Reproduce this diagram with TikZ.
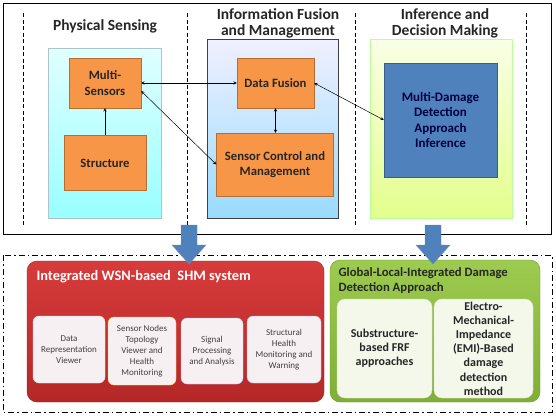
\documentclass[tikz,border=0pt]{standalone}
\usepackage{fontspec}
\setmainfont{Carlito}
\definecolor{boxorange}{HTML}{F79646}\definecolor{orangeedge}{HTML}{B66D31}
\definecolor{boxblue}{HTML}{4F81BD}\definecolor{blueedge}{HTML}{385D8A}
\definecolor{subpink}{HTML}{F7F0F2}\definecolor{subgreen}{HTML}{F3F8EB}
\definecolor{redtop}{HTML}{D73B3B}\definecolor{redbot}{HTML}{B52727}
\definecolor{greentop}{HTML}{9DCB4F}\definecolor{greenbot}{HTML}{7FAF35}

\begin{document}
\begin{tikzpicture}
[x=1pt,y=-1pt,
 heading/.style={font=\bfseries\fontsize{15.5}{16}\selectfont,align=center,text=black!85},
 obox/.style={draw=orangeedge,fill=boxorange,align=center,font=\bfseries\fontsize{12.7}{15.5}\selectfont,inner sep=1pt,text=black!85},
 sbox/.style={draw=#1,fill=subpink,rounded corners=6pt,align=center,font=\fontsize{9}{11}\selectfont,text=black!75,inner sep=1pt},
 gbox/.style={draw=gray!25,fill=subgreen,rounded corners=8pt,align=center,font=\bfseries\fontsize{12}{14.2}\selectfont,text=black!85,inner sep=1pt},
 link/.style={stealth-stealth,line width=0.5pt},
 sep/.style={dash pattern=on 4pt off 2.5pt,line width=0.8pt}]
\useasboundingbox (0,0) rectangle (556,415);
\draw[line width=1pt] (3,3) rectangle (551,234);
\foreach \x in {23,187,355,526} \draw[sep] (\x,13)--(\x,227);
\draw[draw=cyan!30!gray!60,top color=cyan!12,bottom color=cyan!40] (48,48) rectangle (161,218);
\draw[draw=black!75,top color=blue!6,bottom color=blue!35!cyan!40] (207,39) rectangle (338,218);
\draw[draw=lime!40!green!40,top color=lime!10,bottom color=lime!45] (370,39) rectangle (512,218);
\node[heading] (phys) at (105,26) {Physical Sensing};
\node[heading] (fusion) at (278,23) {Information Fusion\\and Management};
\node[heading] (infer) at (445,23) {Inference and\\Decision Making};
\node[obox,minimum width=72pt,minimum height=50pt] (sensors) at (105,83) {Multi-\\Sensors};
\node[obox,minimum width=82pt,minimum height=55pt] (structure) at (105,163) {Structure};
\node[obox,minimum width=77pt,minimum height=50pt] (datafusion) at (275.5,83) {Data Fusion};
\node[obox,minimum width=117pt,minimum height=63pt] (control) at (275,164.5) {Sensor Control and\\Management};
\node[obox,draw=blueedge,fill=boxblue,text=blue!25!black,minimum width=113pt,minimum height=114pt,font=\bfseries\fontsize{13}{15.5}\selectfont] (damage) at (440.5,120) {Multi-Damage\\Detection\\Approach\\Inference};
\draw[-stealth,line width=0.5pt] (structure) -- (sensors);
\draw[link] (sensors) -- (datafusion);
\draw[link] ([yshift=-8pt]sensors.east) -- (control.west);
\draw[link] (datafusion.south) -- (datafusion.south |- control.north);
\draw[link] (datafusion.east) -- (damage.west);
\draw[dash pattern=on 6pt off 3pt on 1.5pt off 3pt,line width=0.9pt] (3,255) rectangle (552,412);
\draw[draw=redbot!85!black,top color=redtop,bottom color=redbot,rounded corners=10pt] (27,261) rectangle (324,402);
\draw[draw=greenbot!85!black,top color=greentop,bottom color=greenbot,rounded corners=10pt] (330,260) rectangle (540,402);
\node[anchor=west,text=white,font=\bfseries\fontsize{14.4}{16}\selectfont] (wsn) at (33,277) {Integrated WSN-based\ \ SHM system};
\node[sbox=gray!20,minimum width=72pt,minimum height=67pt] (viewer) at (69,349.5) {Data\\Representation\\Viewer};
\node[sbox=orange!50!yellow!70,minimum width=68pt,minimum height=68pt] (topology) at (142,351) {Sensor Nodes\\Topology\\Viewer and\\Health\\Monitoring};
\node[sbox=blue!25,minimum width=62pt,minimum height=66pt] (signal) at (212,351) {Signal\\Processing\\and Analysis};
\node[sbox=blue!30!gray!40,minimum width=74pt,minimum height=67pt] (warning) at (284,349.5) {Structural\\Health\\Monitoring and\\Warning};
\node[anchor=north west,align=left,text=black!85,font=\bfseries\fontsize{12.7}{15}\selectfont] (global) at (335,264) {Global-Local-Integrated Damage\\Detection Approach};
\node[gbox,minimum width=95pt,minimum height=99pt] (frf) at (384.5,348.5) {Substructure-\\based FRF\\approaches};
\node[gbox,minimum width=99pt,minimum height=99pt] (emi) at (483.5,348.5) {Electro-\\Mechanical-\\Impedance\\(EMI)-Based\\damage\\detection\\method};
\foreach \x in {189,433} \filldraw[fill=boxblue,draw=blueedge!70] (\x-8,225)--(\x+8,225)--(\x+8,245)--(\x+17,245)--(\x,264)--(\x-17,245)--(\x-8,245)--cycle;
\end{tikzpicture}
\end{document}
